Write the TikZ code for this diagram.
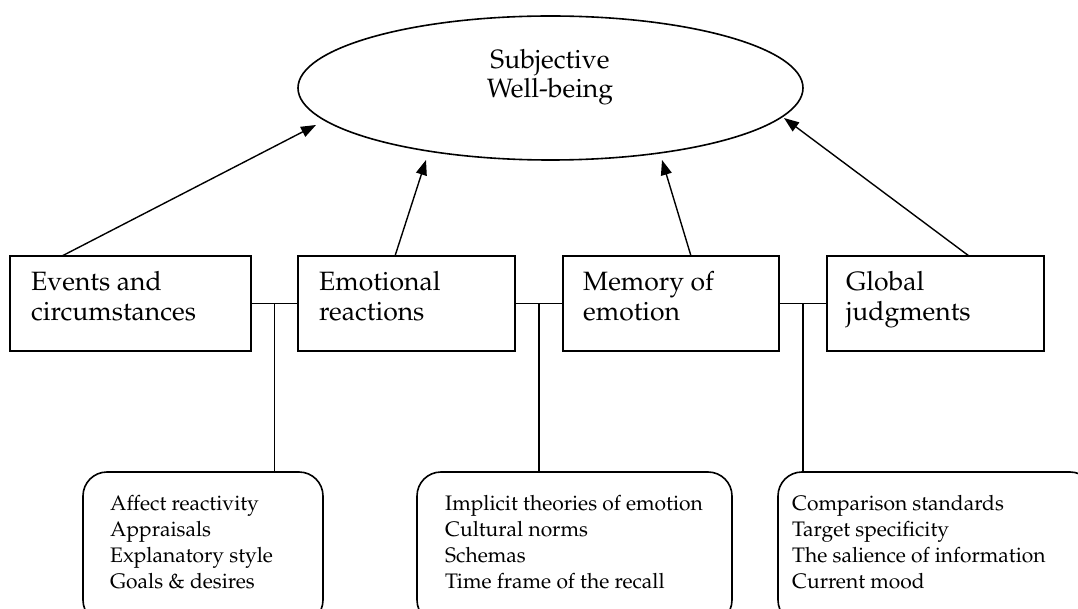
\documentclass[tikz,border=0pt]{standalone}
\usepackage[T1]{fontenc}
\usepackage{mathpazo}
\usetikzlibrary{arrows.meta,shapes.geometric}
\begin{document}
\begin{tikzpicture}[x=1pt,y=-1pt,
  rbox/.style={draw, line width=1.8pt, anchor=north west, inner sep=0pt, outer sep=0pt, minimum height=95pt},
  pill/.style={draw, line width=1.6pt, rounded corners=24pt, anchor=north west, inner sep=0pt, outer sep=0pt, minimum height=152pt},
  bigtxt/.style={anchor=north west, inner sep=0pt, align=left, font=\fontsize{26.5}{30}\selectfont},
  smalltxt/.style={anchor=north west, inner sep=0pt, align=left, font=\fontsize{21}{26}\selectfont},
  arr/.style={line width=1.4pt, -{Triangle[length=15pt,width=11pt]}},
  conn/.style={line width=1.5pt}
]
\useasboundingbox (0,0) rectangle (1078,609);
\clip (0,0) rectangle (1078,609);

% ellipse
\node[ellipse, draw, line width=1.6pt, minimum width=505pt, minimum height=144pt, inner sep=0pt] (swb) at (550.5,88) {};
\node[anchor=north, inner sep=0pt, align=center, font=\fontsize{26.5}{29}\selectfont] (swbt) at (550,47.7) {\strut Subjective\\Well-being};

% boxes
\node[rbox, minimum width=241pt] (b1) at (10,256) {};
\node[rbox, minimum width=217pt] (b2) at (298,256) {};
\node[rbox, minimum width=216pt] (b3) at (563,256) {};
\node[rbox, minimum width=217pt] (b4) at (827,256) {};

\node[bigtxt] (t1) at (31,269) {\strut Events and\\circumstances};
\node[bigtxt] (t2) at (319,269) {\strut Emotional\\reactions};
\node[bigtxt] (t3) at (583,269) {\strut Memory of\\emotion};
\node[bigtxt] (t4) at (846,269) {\strut Global\\judgments};

% rounded boxes
\node[pill, minimum width=240pt] (rA) at (83,472) {};
\node[pill, minimum width=315pt] (rB) at (417,472) {};
\node[pill, minimum width=316pt] (rC) at (778,472) {};

\node[smalltxt] (sA) at (110,491.8) {\strut Affect reactivity\\Appraisals\\Explanatory style\\Goals \& desires};
\node[smalltxt] (sB) at (445,491.8) {\strut Implicit theories of emotion\\Cultural norms\\Schemas\\Time frame of the recall};
\node[smalltxt] (sC) at (792,491.8) {\strut Comparison standards\\Target specificity\\The salience of information\\Current mood};

% arrow tips
\coordinate (p1) at (316,125);
\coordinate (p2) at (426,160);
\coordinate (p3) at (662,160);
\coordinate (p4) at (784,118);

\draw[arr] ([xshift=52pt]b1.north west) -- (p1);
\draw[arr] ([xshift=97pt]b2.north west) -- (p2);
\draw[arr] ([xshift=128pt]b3.north west) -- (p3);
\draw[arr] ([xshift=142pt]b4.north west) -- (p4);

% junction connectors
\coordinate (j1) at (274.5,303.5);
\coordinate (j2) at (539,303.5);
\coordinate (j3) at (803,303.5);
\draw[conn] (b1.east) -- (b2.west);
\draw[conn] (b2.east) -- (b3.west);
\draw[conn] (b3.east) -- (b4.west);
\draw[conn] (j1) -- (j1 |- rA.north);
\draw[conn] (j2) -- (j2 |- rB.north);
\draw[conn] (j3) -- (j3 |- rC.north);
\end{tikzpicture}
\end{document}
